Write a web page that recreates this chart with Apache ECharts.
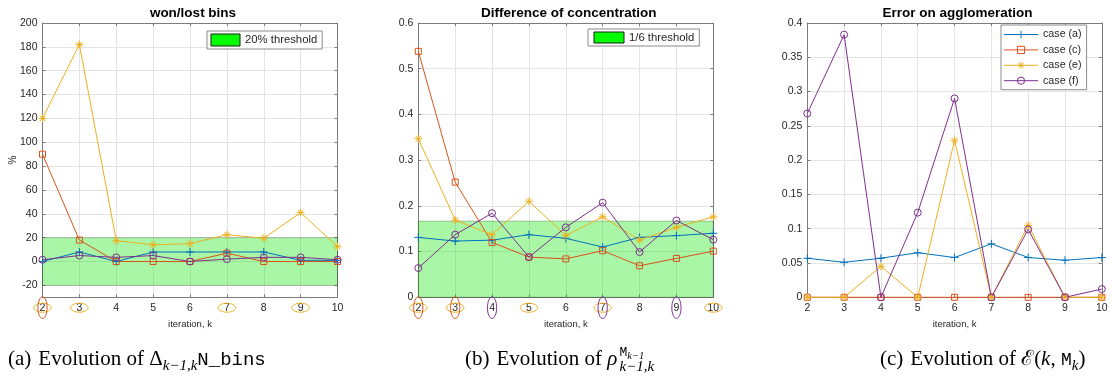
<!DOCTYPE html>
<html>
<head>
<meta charset="utf-8">
<script src="https://cdn.jsdelivr.net/npm/echarts@6/dist/echarts.min.js"></script>
<style>
  html, body { margin: 0; padding: 0; background: #fff; }
  #c { width: 1112px; height: 379px; }
</style>
</head>
<body>
<div id="c"></div>
<script>
// ---- data ---------------------------------------------------------------
const iterations = [2, 3, 4, 5, 6, 7, 8, 9, 10];
const caseNames = ['case (a)', 'case (c)', 'case (e)', 'case (f)'];

// won/lost bins (%)
const binsA = [0, 8, 0, 8, 8, 8, 8, 1, 1];
const binsC = [90, 18, 0, 0, 0, 7, 0, 0, 0];
const binsE = [120, 182, 17.5, 14, 15, 22.5, 19.5, 41, 12.5];
const binsF = [1.5, 5, 3.5, 5, 0, 2, 3.5, 3.5, 1.5];
const binsTicks = [-20, 0, 20, 40, 60, 80, 100, 120, 140, 160, 180, 200];
const binsThreshold = 20;

// difference of concentration
const concA = [0.131, 0.123, 0.125, 0.137, 0.129, 0.110, 0.131, 0.135, 0.140];
const concC = [0.538, 0.252, 0.120, 0.088, 0.084, 0.102, 0.069, 0.085, 0.101];
const concE = [0.347, 0.169, 0.137, 0.210, 0.135, 0.176, 0.125, 0.153, 0.176];
const concF = [0.064, 0.137, 0.184, 0.088, 0.153, 0.207, 0.099, 0.168, 0.126];
const concThreshold = 1 / 6;

// error on agglomeration
const aggA = [0.057, 0.051, 0.057, 0.065, 0.058, 0.078, 0.058, 0.054, 0.058];
const aggC = [0, 0, 0, 0, 0, 0, 0, 0, 0];
const aggE = [0, 0, 0.045, 0, 0.229, 0, 0.105, 0, 0];
const aggF = [0.268, 0.383, 0, 0.1235, 0.29, 0, 0.099, 0, 0.012];

// ---- styling ------------------------------------------------------------
const COLORS = ['#0072BD', '#D95319', '#EDB120', '#7E2F8E'];
const SYMBOLS = [
  'path://M5,0 L5,10 M0,5 L10,5',                                   // plus
  'path://M0,0 L10,0 L10,10 L0,10 Z',                               // square
  'path://M5,0 L5,10 M0,5 L10,5 M1.5,1.5 L8.5,8.5 M8.5,1.5 L1.5,8.5', // asterisk
  'path://M10,5 A5,5 0 1,1 0,5 A5,5 0 1,1 10,5 Z'                   // circle
];
const SYMBOL_SIZES = [8, 6, 8, 7];
const SANS = '"Liberation Sans", Arial, Helvetica, sans-serif';
const SERIF = '"Liberation Serif", "DejaVu Serif", "Times New Roman", serif';
const MONO = '"Liberation Mono", "DejaVu Sans Mono", monospace';
const AXIS_COLOR = '#7c7c7c';
const TEXT_COLOR = '#262626';
const GRID_COLOR = '#e4e4e4';
const BAND_FILL = 'rgba(10,230,0,0.35)';

const grids = [
  { left: 42.5, top: 23, width: 295, height: 274.3 },
  { left: 418.3, top: 23, width: 295, height: 274.3 },
  { left: 807.3, top: 23, width: 294.5, height: 274.3 }
];

const panelTitles = ['won/lost bins', 'Difference of concentration', 'Error on agglomeration'];
const panelData = [
  [binsA, binsC, binsE, binsF],
  [concA, concC, concE, concF],
  [aggA, aggC, aggE, aggF]
];

function caseSeries(gi, ci) {
  const vals = panelData[gi][ci];
  return {
    type: 'line',
    name: caseNames[ci],
    xAxisIndex: gi,
    yAxisIndex: gi,
    data: iterations.map((k, i) => [k, vals[i]]),
    symbol: SYMBOLS[ci],
    symbolSize: SYMBOL_SIZES[ci],
    showAllSymbol: true,
    clip: false,
    z: 3,
    lineStyle: { color: COLORS[ci], width: 1 },
    itemStyle: { color: 'rgba(0,0,0,0)', borderColor: COLORS[ci], borderWidth: 1 },
    emphasis: { disabled: true },
    silent: true
  };
}

function bandSeries(gi, name, lo, hi) {
  return {
    type: 'line',
    name: name,
    xAxisIndex: gi,
    yAxisIndex: gi,
    data: [[2, lo], [10, lo]],
    symbol: 'none',
    lineStyle: { opacity: 0, width: 0 },
    itemStyle: { color: '#00ff00' },
    z: 1,
    silent: true,
    markArea: {
      silent: true,
      itemStyle: { color: BAND_FILL, borderColor: 'rgba(0,0,0,0.22)', borderWidth: 1 },
      data: [[{ coord: [2, lo] }, { coord: [10, hi] }]]
    }
  };
}

function bottomAxis(gi) {
  return {
    type: 'value', gridIndex: gi, position: 'bottom',
    min: 2, max: 10, interval: 1,
    axisLine: { show: true, onZero: false, lineStyle: { color: AXIS_COLOR, width: 1 } },
    axisTick: { show: true, inside: true, length: 3, lineStyle: { color: AXIS_COLOR } },
    axisLabel: { fontSize: 10.5, color: TEXT_COLOR, fontFamily: SANS, margin: 5 },
    splitLine: { show: true, lineStyle: { color: GRID_COLOR, width: 1 } },
    name: 'iteration, k', nameLocation: 'middle', nameGap: 22,
    nameTextStyle: { fontSize: 9.5, color: TEXT_COLOR, fontFamily: SANS }
  };
}
function topAxis(gi) {
  return {
    type: 'value', gridIndex: gi, position: 'top',
    min: 2, max: 10, interval: 1,
    axisLine: { show: true, onZero: false, lineStyle: { color: AXIS_COLOR, width: 1 } },
    axisTick: { show: true, inside: true, length: 3, lineStyle: { color: AXIS_COLOR } },
    axisLabel: { show: false }, splitLine: { show: false }
  };
}
function leftAxis(gi, range, extra) {
  return Object.assign({
    type: 'value', gridIndex: gi, position: 'left',
    min: range[0], max: range[1],
    axisLine: { show: true, onZero: false, lineStyle: { color: AXIS_COLOR, width: 1 } },
    axisTick: { show: true, inside: true, length: 3, lineStyle: { color: AXIS_COLOR } },
    axisLabel: { fontSize: 10.5, color: TEXT_COLOR, fontFamily: SANS, margin: 5 },
    splitLine: { show: true, lineStyle: { color: GRID_COLOR, width: 1 } }
  }, extra || {});
}
function rightAxis(gi, range, extra) {
  return Object.assign({
    type: 'value', gridIndex: gi, position: 'right',
    min: range[0], max: range[1],
    axisLine: { show: true, onZero: false, lineStyle: { color: AXIS_COLOR, width: 1 } },
    axisTick: { show: true, inside: true, length: 3, lineStyle: { color: AXIS_COLOR } },
    axisLabel: { show: false }, splitLine: { show: false }
  }, extra || {});
}

const binsRange = [-30, 200];
const concRange = [0, 0.6];
const aggRange = [0, 0.4];

const yAxes = [
  leftAxis(0, binsRange, {
    axisLabel: { fontSize: 10.5, color: TEXT_COLOR, fontFamily: SANS, margin: 5, customValues: binsTicks },
    axisTick: { show: true, inside: true, length: 3, lineStyle: { color: AXIS_COLOR }, customValues: binsTicks },
    name: '%', nameLocation: 'middle', nameGap: 24, nameRotate: 90, nameMoveOverlap: false,
    nameTextStyle: { fontSize: 10, color: TEXT_COLOR, fontFamily: SANS }
  }),
  leftAxis(1, concRange, { interval: 0.1 }),
  leftAxis(2, aggRange, { interval: 0.05 }),
  rightAxis(0, binsRange, {
    axisTick: { show: true, inside: true, length: 3, lineStyle: { color: AXIS_COLOR }, customValues: binsTicks }
  }),
  rightAxis(1, concRange, { interval: 0.1 }),
  rightAxis(2, aggRange, { interval: 0.05 })
];

const series = [
  bandSeries(0, binsThreshold + '% threshold', -binsThreshold, binsThreshold),
  bandSeries(1, '1/6 threshold', 0, concThreshold)
];
for (let gi = 0; gi < 3; gi++) {
  for (let ci = 0; ci < 4; ci++) series.push(caseSeries(gi, ci));
}

const legendText = { fontSize: 11.3, color: TEXT_COLOR, fontFamily: SANS };
const option = {
  animation: false,
  backgroundColor: '#fff',
  grid: grids.map(g => Object.assign({ outerBoundsMode: 'none', containLabel: false }, g)),
  xAxis: [bottomAxis(0), bottomAxis(1), bottomAxis(2), topAxis(0), topAxis(1), topAxis(2)],
  yAxis: yAxes,
  legend: [
    {
      left: 207, top: 31, orient: 'horizontal',
      data: [{ name: binsThreshold + '% threshold', icon: 'rect',
               itemStyle: { color: '#00ff00', borderColor: '#1a1a1a', borderWidth: 1 } }],
      itemWidth: 29, itemHeight: 12, itemGap: 4,
      padding: [2.5, 5, 2.5, 3.5],
      borderColor: '#8a8a8a', borderWidth: 1, backgroundColor: '#fff',
      textStyle: legendText, selectedMode: false
    },
    {
      left: 588, top: 29, orient: 'horizontal',
      data: [{ name: '1/6 threshold', icon: 'rect',
               itemStyle: { color: '#00ff00', borderColor: '#1a1a1a', borderWidth: 1 } }],
      itemWidth: 30, itemHeight: 11, itemGap: 4,
      padding: [2.5, 5, 2.5, 5.5],
      borderColor: '#8a8a8a', borderWidth: 1, backgroundColor: '#fff',
      textStyle: legendText, selectedMode: false
    },
    {
      left: 1001, top: 25, orient: 'vertical',
      data: caseNames,
      itemWidth: 34, itemHeight: 9, itemGap: 4.4,
      padding: [4, 5, 3.5, 2.5],
      itemStyle: { borderWidth: 1 },
      lineStyle: { width: 1 },
      borderColor: '#8a8a8a', borderWidth: 1, backgroundColor: '#fff',
      textStyle: { fontSize: 10.7, color: TEXT_COLOR, fontFamily: SANS }, selectedMode: false
    }
  ],
  series: series
};

const chart = echarts.init(document.getElementById('c'), null, { renderer: 'canvas' });
chart.setOption(option);

// ---- annotations: titles, circled tick labels, captions ----------------
const graphics = [];

grids.forEach((g, gi) => {
  graphics.push({
    type: 'text', x: g.left + g.width / 2 + 3, y: 13, silent: true,
    style: { text: panelTitles[gi], font: 'bold 13.5px ' + SANS, fill: '#000',
             align: 'center', verticalAlign: 'middle' }
  });
});

// circle the iteration labels where a case goes over its threshold
const LABEL_Y = 307.7;
function circleLabels(gi, values, threshold, color, vertical) {
  iterations.forEach((k, i) => {
    if (values[i] > threshold) {
      const px = chart.convertToPixel({ xAxisIndex: gi }, k);
      graphics.push({
        type: 'ellipse', silent: true, z: 10,
        shape: { cx: px, cy: LABEL_Y, rx: vertical ? 4.6 : 8.7, ry: vertical ? 10.8 : 4.5 },
        style: { fill: 'none', stroke: color, lineWidth: 1 }
      });
    }
  });
}
circleLabels(0, binsE, binsThreshold, COLORS[2], false);
circleLabels(0, binsC, binsThreshold, COLORS[1], true);
circleLabels(1, concE, concThreshold, COLORS[2], false);
circleLabels(1, concC, concThreshold, COLORS[1], true);
circleLabels(1, concF, concThreshold, COLORS[3], true);

// captions set in a small math-like layout (baseline-relative pieces)
const measureCtx = document.createElement('canvas').getContext('2d');
function fontOf(p) {
  return (p.italic ? 'italic ' : '') + p.size + 'px ' + (p.family || SERIF);
}
function caption(x0, baseline, pieces) {
  let x = x0, saved = x0;
  pieces.forEach(p => {
    if (p.save) { saved = x; return; }
    if (p.restore) { x = saved; return; }
    if (p.gap) { x += p.gap; return; }
    const font = fontOf(p);
    measureCtx.font = font;
    const w = measureCtx.measureText(p.t).width;
    graphics.push({
      type: 'text', x: x, y: baseline + (p.dy || 0) - 0.3 * p.size, silent: true,
      style: { text: p.t, font: font, fill: '#000', align: 'left', verticalAlign: 'middle' }
    });
    x += w;
  });
}
const CAP = 21, SUB = 15, BASE = 365.5;
caption(8, BASE, [
  { t: '(a)', size: CAP }, { gap: 7 }, { t: 'Evolution of ', size: CAP },
  { t: 'Δ', size: CAP }, { t: 'k−1,k', size: SUB, italic: true, dy: 5 },
  { t: 'N_bins', size: 19, family: MONO }
]);
caption(465, BASE, [
  { t: '(b)', size: CAP }, { gap: 7 }, { t: 'Evolution of ', size: CAP },
  { t: 'ρ', size: CAP, italic: true }, { gap: 2 }, { save: true },
  { t: 'M', size: 13, family: MONO, dy: -9 }, { t: 'k−1', size: 10.5, italic: true, dy: -6.5 },
  { restore: true },
  { t: 'k−1,k', size: SUB, italic: true, dy: 6 }
]);
caption(880, BASE, [
  { t: '(c)', size: CAP }, { gap: 7 }, { t: 'Evolution of ', size: CAP },
  { t: 'ℰ', size: CAP }, { t: '(', size: CAP }, { t: 'k', size: CAP, italic: true },
  { t: ', ', size: CAP }, { t: 'M', size: 18, family: MONO },
  { t: 'k', size: SUB, italic: true, dy: 5 }, { t: ')', size: CAP }
]);

chart.setOption({ graphic: graphics });
</script>
</body>
</html>
